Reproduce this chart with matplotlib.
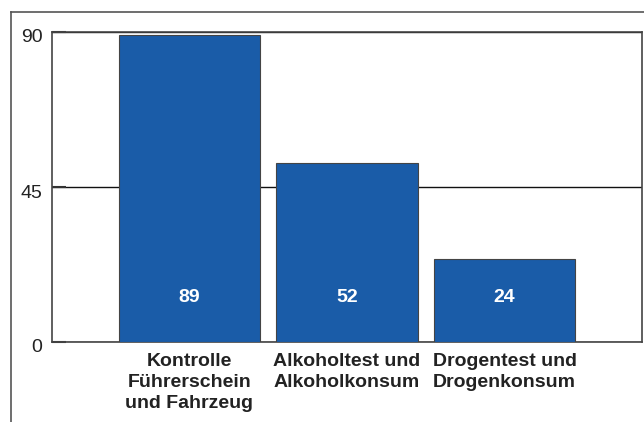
import matplotlib
matplotlib.use("Agg")
import matplotlib.pyplot as plt
import matplotlib.transforms as mtransforms
from matplotlib.lines import Line2D

plt.rcParams['font.family'] = ['Liberation Sans', 'DejaVu Sans']

categories = ["Kontrolle\nFührerschein\nund Fahrzeug",
              "Alkoholtest und\nAlkoholkonsum",
              "Drogentest und\nDrogenkonsum"]
values = [89, 52, 24]
yticks = [0, 45, 90]

bar_color = "#1a5ca8"

fig = plt.figure(figsize=(6.44, 4.22), dpi=100)
ax = fig.add_axes([52 / 644, 1 - 342 / 422, 590 / 644, 310 / 422])

x = range(len(values))
bars = ax.bar(x, values, width=0.9, color=bar_color, edgecolor="#444444",
              linewidth=0.8, zorder=3)

for xi, v in zip(x, values):
    ax.text(xi, 13, str(v), ha="center", va="center", color="white",
            fontsize=14, fontweight="bold", zorder=4)

ax.set_xlim(-0.873, 2.873)
ax.set_ylim(0, 90)
ax.set_yticks(yticks)
ax.set_yticklabels([str(t) for t in yticks], fontsize=14, color="#222222")
ax.yaxis.grid(True, color="#111111", linewidth=1.0, zorder=0)
ax.tick_params(axis="y", length=10, width=1.5, direction="in", color="#333333", pad=7)
# labels sit a little below their gridlines in the original
shift = mtransforms.ScaledTranslation(0, -4 / 100, fig.dpi_scale_trans)
for lbl in ax.get_yticklabels():
    lbl.set_transform(lbl.get_transform() + shift)

ax.set_xticks(list(x))
ax.set_xticklabels(categories, fontsize=14, fontweight="bold", color="#222222",
                   linespacing=1.3)
ax.tick_params(axis="x", length=0, pad=8)

for s in ax.spines.values():
    s.set_color("#444444")
    s.set_linewidth(1.2)

# outer frame (left and top edges)
fig.add_artist(Line2D([11 / 644, 11 / 644], [0, 1 - 12 / 422],
                      transform=fig.transFigure, color="#555555", linewidth=1.2))
fig.add_artist(Line2D([11 / 644, 1], [1 - 12 / 422, 1 - 12 / 422],
                      transform=fig.transFigure, color="#555555", linewidth=1.2))

fig.savefig("out.png", dpi=100)
